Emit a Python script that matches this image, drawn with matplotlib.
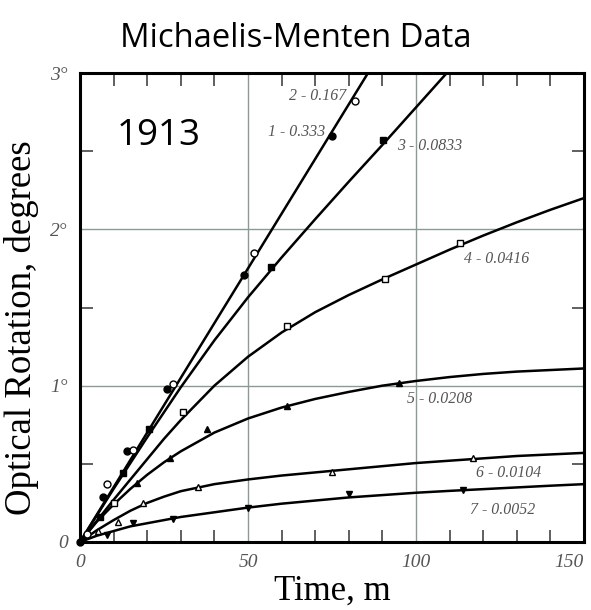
import numpy as np
import matplotlib.pyplot as plt
from matplotlib.ticker import MultipleLocator

# fitted curves
curve_t = [0, 5, 10, 15, 20, 25, 30, 40, 50, 60, 70, 80, 90, 100, 110, 120, 130, 140, 150]
curve_12 = [0, 0.175, 0.35, 0.525, 0.70, 0.875, 1.05, 1.40, 1.75, 2.10, 2.45, 2.80, 3.15]   # 1 and 2 share a line
curve_3 = [0, 0.17, 0.34, 0.505, 0.67, 0.83, 0.99, 1.29, 1.565, 1.82, 2.065, 2.305, 2.54, 2.78, 3.02]
curve_4 = [0, 0.135, 0.27, 0.40, 0.53, 0.66, 0.78, 1.00, 1.185, 1.34, 1.47, 1.58, 1.68, 1.775,
           1.87, 1.96, 2.045, 2.125, 2.20]
curve_5 = [0, 0.13, 0.24, 0.34, 0.43, 0.51, 0.58, 0.70, 0.79, 0.86, 0.915, 0.96, 1.00, 1.03,
           1.055, 1.075, 1.09, 1.10, 1.11]
curve_6 = [0, 0.075, 0.14, 0.20, 0.25, 0.29, 0.325, 0.37, 0.40, 0.425, 0.445, 0.465, 0.485, 0.505,
           0.52, 0.535, 0.55, 0.56, 0.57]
curve_7 = [0, 0.04, 0.07, 0.10, 0.12, 0.14, 0.16, 0.19, 0.22, 0.245, 0.265, 0.285, 0.30, 0.315,
           0.327, 0.338, 0.349, 0.36, 0.37]

# measured points
t1 = [0, 6.8, 13.9, 25.9, 48.8, 75.0]
y1 = [0, 0.29, 0.58, 0.98, 1.71, 2.60]
t2 = [2.0, 8.0, 15.8, 27.7, 51.8, 81.8]
y2 = [0.05, 0.37, 0.59, 1.01, 1.85, 2.82]
t3 = [6.0, 12.8, 20.5, 56.8, 90.2]
y3 = [0.16, 0.44, 0.72, 1.76, 2.57]
t4 = [10.1, 30.7, 61.6, 90.8, 113.1]
y4 = [0.25, 0.83, 1.38, 1.68, 1.91]
t5 = [17.0, 26.8, 37.8, 61.6, 94.9]
y5 = [0.38, 0.54, 0.72, 0.87, 1.02]
t6 = [5.4, 11.3, 18.8, 35.1, 75.0, 117.0]
y6 = [0.07, 0.13, 0.25, 0.35, 0.45, 0.54]
t7 = [8.0, 15.8, 27.7, 50.0, 80.0, 114.0]
y7 = [0.045, 0.12, 0.15, 0.22, 0.305, 0.33]

labels = ["1 - 0.333", "2 - 0.167", "3 - 0.0833", "4 - 0.0416",
          "5 - 0.0208", "6 - 0.0104", "7 - 0.0052"]
label_x = [56.0, 62.3, 94.3, 114.3, 97.3, 117.9, 116.0]
label_y = [2.62, 2.85, 2.53, 1.81, 0.915, 0.44, 0.205]

serif = ['Liberation Serif', 'DejaVu Serif']
sans = ['Open Sans', 'DejaVu Sans']

fig = plt.figure(figsize=(5.91, 6.10), dpi=100)
ax = fig.add_axes([0.1354, 0.1115, 0.8527, 0.7688])

for c in (curve_12, curve_3, curve_4, curve_5, curve_6, curve_7):
    ax.plot(curve_t[:len(c)], c, color='black', lw=1.8, zorder=3)

mk = dict(color='black', ls='none', ms=5, zorder=4, clip_on=False)
ax.plot(t1, y1, marker='o', **mk)
ax.plot(t2, y2, marker='o', mfc='white', mew=1.0, **mk)
ax.plot(t3, y3, marker='s', **mk)
ax.plot(t4, y4, marker='s', mfc='white', mew=1.0, **mk)
ax.plot(t5, y5, marker='^', **mk)
ax.plot(t6, y6, marker='^', mfc='white', mew=1.0, **mk)
ax.plot(t7, y7, marker='v', **mk)

for s, lx, ly in zip(labels, label_x, label_y):
    ax.text(lx, ly, s, family=serif, style='italic', fontsize=11.4,
            color='#555555', va='center', ha='left', zorder=5)

ax.text(23.5, 2.6, "1913", family=sans, fontsize=26.5,
        ha='center', va='center', color='black')

ax.set_xlim(0, 150)
ax.set_ylim(0, 3)
ax.set_xticks([0, 50, 100, 150])
ax.set_xticklabels(['0', '50', '100', '150'])
ax.set_yticks([0, 1, 2, 3])
ax.set_yticklabels(['0', '1°', '2°', '3°'])
ax.xaxis.set_minor_locator(MultipleLocator(10))
ax.yaxis.set_minor_locator(MultipleLocator(0.5))
ax.tick_params(which='both', direction='in', top=True, right=True, width=1.2,
               color='#444444')
ax.tick_params(which='major', length=0, pad=9)
ax.tick_params(which='minor', length=9)
for lab in ax.get_xticklabels() + ax.get_yticklabels():
    lab.set_family(serif)
    lab.set_style('italic')
    lab.set_fontsize(14)
    lab.set_color('#555555')
ax.get_xticklabels()[-1].set_ha('right')

ax.grid(True, which='major', color='#8a9a96', lw=1.0)
for sp in ax.spines.values():
    sp.set_linewidth(2.2)

ax.set_xlabel("Time, m", family=serif, fontsize=25, labelpad=2)
ax.set_ylabel("Optical Rotation, degrees", family=serif, fontsize=26.5)
ax.yaxis.set_label_coords(-0.081, 0.458)

fig.text(0.5, 0.937, "Michaelis-Menten Data", family=sans, fontsize=23.6,
         ha='center', va='center')

plt.savefig("out.png", dpi=100)
